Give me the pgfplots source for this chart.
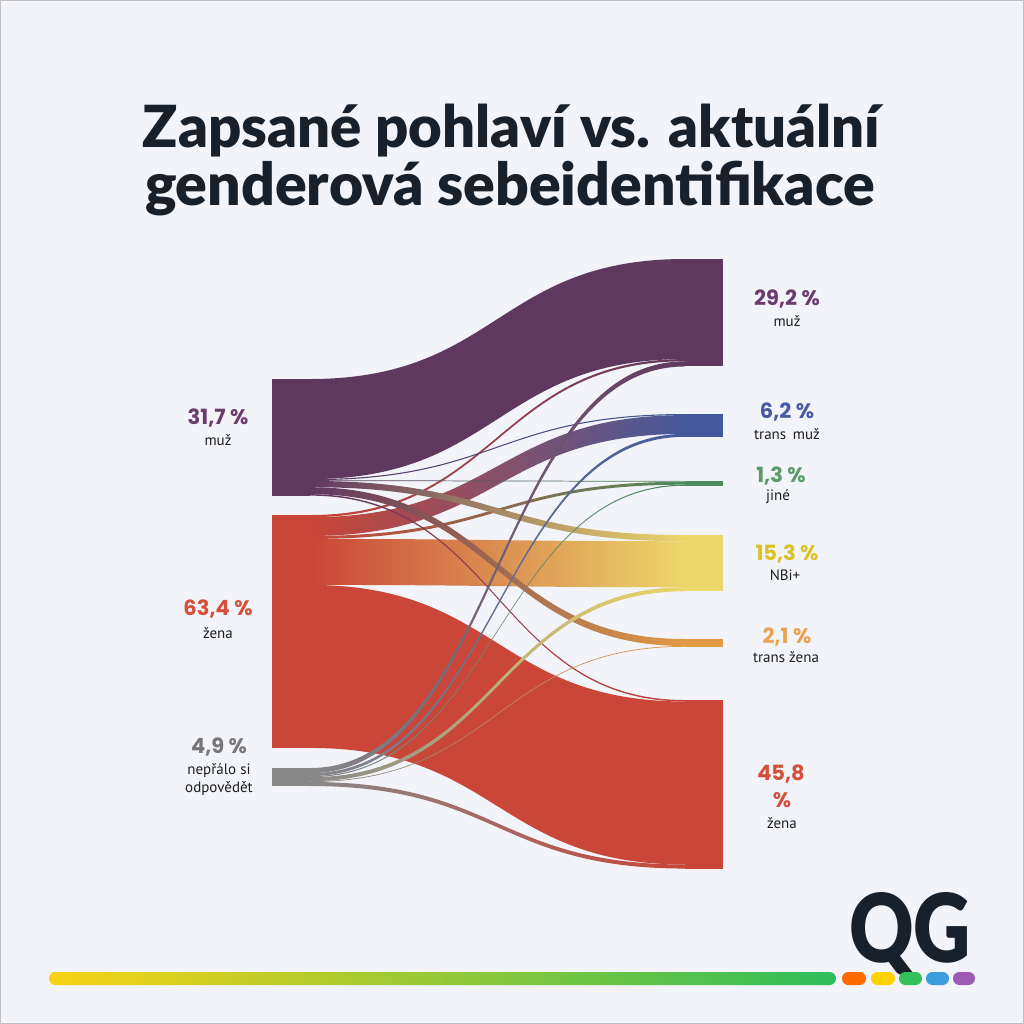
\documentclass[border=0pt]{standalone}
\usepackage{fontspec}
\usepackage{pgfplots}
\pgfplotsset{compat=1.18}
\usepackage{graphicx}
\setmainfont{PT Sans}
\newfontfamily\titlefont{Lato Black}
\newfontfamily\numfont{Poppins}
\newfontfamily\logofont{Lato Black}

\definecolor{bg}{HTML}{F2F4F9}
\definecolor{cM}{HTML}{5F3860}
\definecolor{cZ}{HTML}{C94638}
\definecolor{cN}{HTML}{888888}
\definecolor{cTM}{HTML}{44599B}
\definecolor{cJ}{HTML}{4E8A5E}
\definecolor{cNB}{HTML}{ECD76A}
\definecolor{cTZ}{HTML}{E29A45}
\definecolor{tM}{HTML}{6B3B6E}
\definecolor{tZ}{HTML}{D44F3C}
\definecolor{tN}{HTML}{777777}
\definecolor{tTM}{HTML}{4A5BA3}
\definecolor{tJ}{HTML}{5B9B6A}
\definecolor{tNB}{HTML}{DCC126}
\definecolor{tTZ}{HTML}{EBA250}
\definecolor{labc}{HTML}{1E1E1E}
\definecolor{ttl}{HTML}{18202B}
\definecolor{barA}{HTML}{F9D315}
\definecolor{barB}{HTML}{2DBE5B}
\definecolor{pO}{HTML}{FF6A00}
\definecolor{pY}{HTML}{FFD200}
\definecolor{pG}{HTML}{33C15A}
\definecolor{pB}{HTML}{3B9DDD}
\definecolor{pP}{HTML}{9B5BB5}

% running tops of the nodes (pixel units, y downwards); 1 % = 3.68 units
\expandafter\def\csname FLm\endcsname{379}
\expandafter\def\csname FLz\endcsname{515}
\expandafter\def\csname FLn\endcsname{768}
\expandafter\def\csname FRm\endcsname{259}
\expandafter\def\csname FRtm\endcsname{414}
\expandafter\def\csname FRj\endcsname{481}
\expandafter\def\csname FRnb\endcsname{535}
\expandafter\def\csname FRtz\endcsname{639}
\expandafter\def\csname FRz\endcsname{700}
\newtoks\listm \newtoks\listz \newtoks\listn

% \flow{source}{target}{percent}{source colour}{target colour}
\newcommand\flow[5]{%
 \pgfmathsetmacro\fya{\csname FL#1\endcsname}%
 \pgfmathsetmacro\fyb{\csname FR#2\endcsname}%
 \pgfmathsetmacro\fyc{\fya+#3*3.68}%
 \pgfmathsetmacro\fyd{\fyb+#3*3.68}%
 \expandafter\xdef\csname FL#1\endcsname{\fyc}%
 \expandafter\xdef\csname FR#2\endcsname{\fyd}%
 \edef\tmp{\the\csname list#1\endcsname
  \noexpand\shade[left color=#4,right color=#5,draw=none]
  (axis cs:310,\fya) .. controls (axis cs:497.5,\fya) and (axis cs:497.5,\fyb) .. (axis cs:685,\fyb)
  -- (axis cs:685,\fyd) .. controls (axis cs:497.5,\fyd) and (axis cs:497.5,\fyc) .. (axis cs:310,\fyc) -- cycle;}%
 \global\csname list#1\endcsname\expandafter{\tmp}%
}
% \nodebar{x left}{top}{percent}{colour}
\newcommand\nodebar[4]{%
 \pgfmathsetmacro\nbb{#2+#3*3.68}\pgfmathsetmacro\nbx{#1+38}%
 \edef\tmp{\noexpand\addplot[fill=#4,draw=none,forget plot] coordinates {(#1,#2) (\nbx,#2) (\nbx,\nbb) (#1,\nbb)};}\tmp}
\newcommand\pct[4]{\node[font=\numfont\bfseries\fontsize{10.5}{12}\selectfont,text=#3,inner sep=0] at (axis cs:#1,#2) {#4};}
\newcommand\lab[3]{\node[font=\fontsize{7.5}{9}\selectfont,text=labc,inner sep=0,align=center] at (axis cs:#1,#2) {#3};}

\begin{document}
\begin{tikzpicture}
\flow{m}{m}{27.2}{cM}{cM}
\flow{m}{tm}{0.3}{cM}{cTM}
\flow{m}{j}{0.2}{cM}{cJ}
\flow{m}{nb}{1.7}{cM}{cNB}
\flow{m}{tz}{1.9}{cM}{cTZ}
\flow{m}{z}{0.4}{cM}{cZ}
\flow{z}{m}{0.6}{cZ}{cM}
\flow{z}{tm}{5.1}{cZ}{cTM}
\flow{z}{j}{0.8}{cZ}{cJ}
\flow{z}{nb}{12.5}{cZ}{cNB}
\flow{z}{z}{44.3}{cZ}{cZ}
\flow{n}{m}{1.4}{cN}{cM}
\flow{n}{tm}{0.8}{cN}{cTM}
\flow{n}{j}{0.3}{cN}{cJ}
\flow{n}{nb}{1.1}{cN}{cNB}
\flow{n}{tz}{0.2}{cN}{cTZ}
\flow{n}{z}{1.1}{cN}{cZ}
\begin{axis}[width=512pt,height=512pt,scale only axis,xmin=0,xmax=1024,ymin=0,ymax=1024,
  y dir=reverse,hide axis,clip=false]
\fill[bg] (axis cs:0,0) rectangle (axis cs:1024,1024);
\draw[black!25,line width=0.5pt] (axis cs:0.5,0.5) rectangle (axis cs:1023.5,1023.5);
% title
\node[anchor=base,inner sep=0,text=ttl,font=\titlefont\fontsize{25}{30}\selectfont] at (axis cs:511.5,147) {\resizebox{368.5pt}{!}{Zapsané pohlaví vs. aktuální}};
\node[anchor=base,inner sep=0,text=ttl,font=\titlefont\fontsize{25}{30}\selectfont] at (axis cs:510,205) {\resizebox{365pt}{!}{genderová sebeidentifikace}};
% flows
\the\listz
\the\listm
\the\listn
% nodes
\nodebar{272}{379}{31.7}{cM}
\nodebar{272}{515}{63.4}{cZ}
\nodebar{272}{768}{4.9}{cN}
\nodebar{685}{259}{29.2}{cM}
\nodebar{685}{414}{6.2}{cTM}
\nodebar{685}{481}{1.3}{cJ}
\nodebar{685}{535}{15.3}{cNB}
\nodebar{685}{639}{2.1}{cTZ}
\nodebar{685}{700}{45.8}{cZ}
% labels
\pct{218}{418}{tM}{31,7 \%}
\lab{218}{440}{muž}
\pct{218}{609}{tZ}{63,4 \%}
\lab{218}{633}{žena}
\pct{219}{747}{tN}{4,9 \%}
\lab{219}{779}{nepřálo si\\odpovědět}
\pct{787}{299}{tM}{29,2 \%}
\lab{787}{321}{muž}
\pct{787}{412}{tTM}{6,2 \%}
\lab{787}{434}{trans\hspace{0.45em}muž}
\pct{781}{476}{tJ}{1,3 \%}
\lab{778}{497}{jiné}
\pct{787}{554}{tNB}{15,3 \%}
\lab{785}{575}{NBi+}
\pct{787}{637}{tTZ}{2,1 \%}
\lab{786}{657}{trans žena}
\pct{781}{774}{tZ}{45,8}
\pct{782}{800}{tZ}{\%}
\lab{782}{823}{žena}
% logo and bar
\node[anchor=base,inner sep=0,text=ttl] at (axis cs:910,962) {\resizebox{61pt}{35pt}{\logofont QG}};
\shade[left color=barA,right color=barB,rounded corners=3.2pt] (axis cs:49,972) rectangle (axis cs:836,985);
\fill[pO,rounded corners=3.2pt] (axis cs:842,972) rectangle (axis cs:866,985);
\fill[pY,rounded corners=3.2pt] (axis cs:871,972) rectangle (axis cs:895,985);
\fill[pG,rounded corners=3.2pt] (axis cs:899,972) rectangle (axis cs:922,985);
\fill[pB,rounded corners=3.2pt] (axis cs:926,972) rectangle (axis cs:949,985);
\fill[pP,rounded corners=3.2pt] (axis cs:953,972) rectangle (axis cs:975,985);
\end{axis}
\end{tikzpicture}
\end{document}
